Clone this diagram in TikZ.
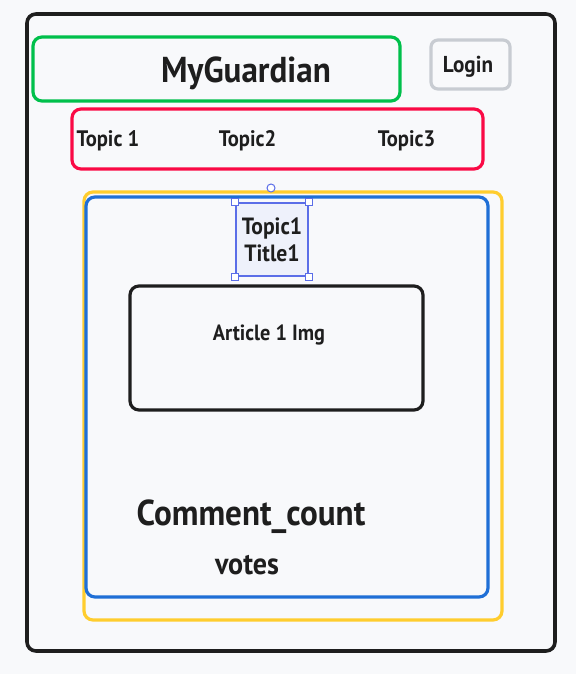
\documentclass[tikz,border=0pt]{standalone}
\usepackage{fontspec}
\newfontfamily\hand{PT Sans}[FakeStretch=0.92]
\definecolor{bg}{HTML}{F8F9FB}
\definecolor{ink}{HTML}{1E1E1E}
\definecolor{cgreen}{HTML}{00C04B}
\definecolor{cred}{HTML}{FA0A45}
\definecolor{cyellow}{HTML}{FFCD2E}
\definecolor{cblue}{HTML}{1F6FD6}
\definecolor{cgray}{HTML}{C8CCD2}
\definecolor{csel}{HTML}{5B6EE8}
\definecolor{cselfill}{HTML}{EEF1FB}
\tikzset{
  frame/.style={draw, rectangle, rounded corners=9pt, line width=3.2pt, inner sep=0pt},
  label/.style={font=\hand\bfseries, text=ink, inner sep=0pt, align=center},
  handle/.style={draw=csel, fill=white, line width=1pt, minimum size=7pt, inner sep=0pt, rectangle},
}
\begin{document}
\begin{tikzpicture}[x=1pt,y=-1pt]
\useasboundingbox[fill=bg] (0,0) rectangle (576,674);
% outer
\node[frame, draw=ink, line width=3.6pt, minimum width=528pt, minimum height=637pt] (outer) at (291,332.5) {};
% header
\node[frame, draw=cgreen, minimum width=367pt, minimum height=64pt] (header) at (216.5,69) {};
\node[label, font=\hand\bfseries\fontsize{36}{36}\selectfont] (title) at (246,73) {MyGuardian};
\node[frame, draw=cgray, minimum width=79pt, minimum height=49pt, rounded corners=7pt] (login) at (470.5,64.5) {};
\node[label, font=\hand\bfseries\fontsize{23}{23}\selectfont] (logintext) at (468,67) {Login};
% topics
\node[frame, draw=cred, minimum width=411pt, minimum height=60pt] (topics) at (277.5,139) {};
\node[label, font=\hand\bfseries\fontsize{22.4}{22.4}\selectfont] (t1) at (108,141) {Topic 1};
\node[label, font=\hand\bfseries\fontsize{22.4}{22.4}\selectfont] (t2) at (247.5,141) {Topic2};
\node[label, font=\hand\bfseries\fontsize{22.4}{22.4}\selectfont] (t3) at (406.5,141) {Topic3};
% article card
\node[frame, draw=cyellow, minimum width=418pt, minimum height=428pt] (card) at (293,406) {};
\node[frame, draw=cblue, minimum width=402pt, minimum height=400pt] (inner) at (287,397) {};
% selected text box
\node[draw=csel, fill=cselfill, line width=1.3pt, rectangle, minimum width=72pt, minimum height=73pt, inner sep=0pt] (sel) at (272,239.5) {};
\node[label, font=\hand\bfseries\fontsize{23.5}{27.5}\selectfont] (seltext) at (272,240) {Topic1\\Title1};
\foreach \c in {north west, north east, south west, south east}
  \node[handle] at (sel.\c) {};
\node[draw=csel, fill=white, line width=1pt, circle, minimum size=8pt, inner sep=0pt] (rot) at (271,188) {};
% image
\node[frame, draw=ink, minimum width=293pt, minimum height=124pt] (img) at (276.5,348) {};
\node[label, font=\hand\bfseries\fontsize{22}{22}\selectfont] (imgtext) at (269,335) {Article 1 Img};
% counts
\node[label, font=\hand\bfseries\fontsize{36}{36}\selectfont] (cc) at (251,517) {Comment\_count};
\node[label, font=\hand\bfseries\fontsize{30.5}{30.5}\selectfont] (votes) at (247,565) {votes};
\end{tikzpicture}
\end{document}
